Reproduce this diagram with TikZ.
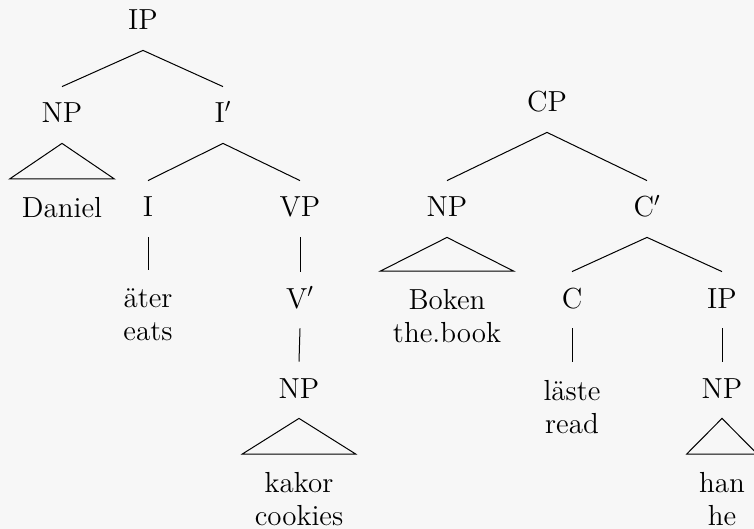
\documentclass[tikz,border=0pt]{standalone}
\usepackage{amsmath, amssymb}
\definecolor{bgGray}{RGB}{247,247,247}

\begin{document}
\begin{tikzpicture}[x = 0.5pt, y = -0.5pt, font = \fontsize{14.5}{16.5}\selectfont]
	\tikzstyle{catStyle}=[anchor = base, inner xsep = 2pt, inner ysep = 8pt, text height = 10pt, text depth = 2pt]
	\tikzstyle{leafStyle}=[anchor = north, align = center, inner xsep = 6pt, inner ysep = 9pt]
	\tikzstyle{branchStyle}=[line width = 0.5pt]
	\fill[bgGray] (0, 0) rectangle (754, 529);
	\useasboundingbox (0, 0) rectangle (754, 529);
	% left tree
	\node[catStyle] (ipA) at (143, 30) {IP};
	\node[catStyle] (npA) at (62, 123) {NP};
	\node[catStyle] (ibar) at (223, 123) {I$'$};
	\node[catStyle] (infl) at (148, 217) {I};
	\node[catStyle] (vp) at (300, 217) {VP};
	\node[catStyle] (vbar) at (300, 308) {V$'$};
	\node[catStyle] (npB) at (299, 398) {NP};
	\node[leafStyle] (daniel) at (62, 179) {Daniel};
	\node[leafStyle] (ater) at (148, 270) {äter\\eats};
	\node[leafStyle] (kakor) at (299, 454) {kakor\\cookies};
	% right tree
	\node[catStyle] (cp) at (547, 112) {CP};
	\node[catStyle] (npC) at (447, 217) {NP};
	\node[catStyle] (cbar) at (647, 217) {C$'$};
	\node[catStyle] (comp) at (572, 308) {C};
	\node[catStyle] (ipB) at (722, 308) {IP};
	\node[catStyle] (npD) at (722, 398) {NP};
	\node[leafStyle] (boken) at (447, 271) {Boken\\the.book};
	\node[leafStyle] (laste) at (572, 362) {läste\\read};
	\node[leafStyle] (han) at (722, 454) {han\\he};
	% branches
	\draw[branchStyle] (ipA.south) -- (npA.north);
	\draw[branchStyle] (ipA.south) -- (ibar.north);
	\draw[branchStyle] (ibar.south) -- (infl.north);
	\draw[branchStyle] (ibar.south) -- (vp.north);
	\draw[branchStyle] (infl.south) -- (ater.north);
	\draw[branchStyle] (vp.south) -- (vbar.north);
	\draw[branchStyle] (vbar.south) -- (npB.north);
	\draw[branchStyle] (cp.south) -- (npC.north);
	\draw[branchStyle] (cp.south) -- (cbar.north);
	\draw[branchStyle] (cbar.south) -- (comp.north);
	\draw[branchStyle] (cbar.south) -- (ipB.north);
	\draw[branchStyle] (comp.south) -- (laste.north);
	\draw[branchStyle] (ipB.south) -- (npD.north);
	% triangles
	\draw[branchStyle] (npA.south) -- (daniel.north west) -- (daniel.north east) -- cycle;
	\draw[branchStyle] (npB.south) -- (kakor.north west) -- (kakor.north east) -- cycle;
	\draw[branchStyle] (npC.south) -- (boken.north west) -- (boken.north east) -- cycle;
	\draw[branchStyle] (npD.south) -- (han.north west) -- (han.north east) -- cycle;
\end{tikzpicture}
\end{document}
